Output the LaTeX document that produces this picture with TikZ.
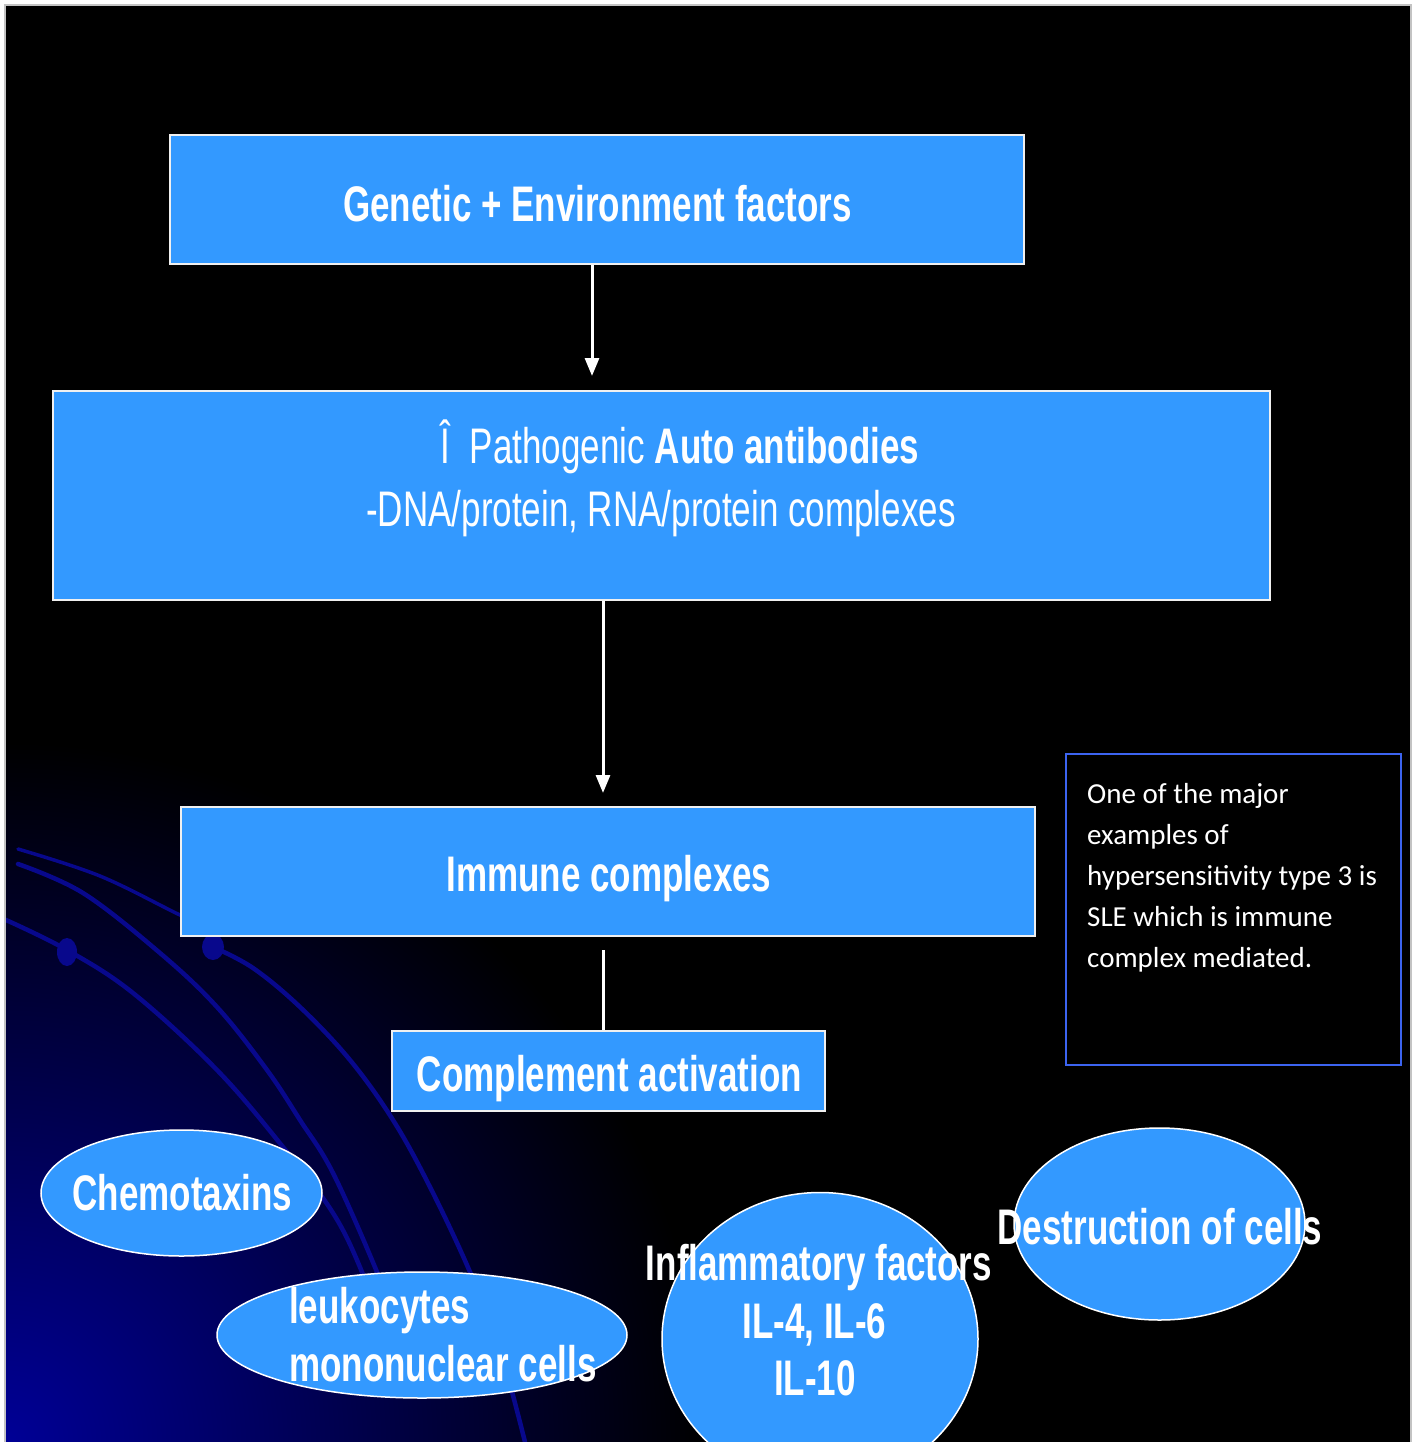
\documentclass[tikz,border=0pt]{standalone}
\usepackage{fontspec}
\setmainfont{Liberation Sans}
\newfontfamily\narrowfont[FakeStretch=0.70]{Liberation Sans}
\newfontfamily\notefont{Carlito}
\usetikzlibrary{shapes.geometric,arrows.meta}
\definecolor{boxblue}{RGB}{51,153,255}
\definecolor{arcblue}{RGB}{8,8,140}
\definecolor{deepblue}{RGB}{0,0,150}
\definecolor{noteblue}{RGB}{60,100,240}
\definecolor{framegray}{RGB}{195,195,195}
\begin{document}
\begin{tikzpicture}[x=1pt,y=-1pt,
  blk/.style={rectangle, draw=white!88!gray, line width=2pt, fill=boxblue, inner sep=0pt},
  bubble/.style={ellipse, draw=white, line width=1.5pt, fill=boxblue, inner sep=0pt},
  bt/.style={text=white, font=\narrowfont\bfseries\fontsize{50}{58}\selectfont, inner sep=0pt, anchor=base},
  rt/.style={text=white, font=\narrowfont\fontsize{50}{58}\selectfont, inner sep=0pt, anchor=base},
  nt/.style={text=white, font=\notefont\fontsize{29}{41}\selectfont, inner sep=0pt, anchor=base west},
  bluearc/.style={draw=arcblue, line width=4.5pt, line cap=round},
  flow/.style={draw=white, line width=3pt, -{Triangle[width=14pt,length=18pt]}},
]
\useasboundingbox (0,0) rectangle (1415,1442);
\clip (0,0) rectangle (1415,1442);
\fill[white] (0,0) rectangle (1415,1442);
% background
\fill[black] (5,5) rectangle (1411,1460);
\draw[framegray, line width=1.5pt] (5,1460) -- (5,5) -- (1411,5) -- (1411,1460);
\begin{scope}
  \clip (6,6) rectangle (1410,1442);
  \shade[inner color=deepblue, outer color=black] (5,1442) circle (700pt);
  % decorative arcs
  \draw[bluearc, line width=3.5pt] plot[smooth, tension=0.6] coordinates {(18,849) (100,876) (180,915) (215,930)};
  \draw[bluearc] plot[smooth, tension=0.6] coordinates {(18,864) (83,893) (160,953) (217,1007) (267,1070) (300,1120) (333,1173) (377,1272) (398,1330)};
  \draw[bluearc] plot[smooth, tension=0.6] coordinates {(6,920) (67,950) (133,993) (217,1070) (283,1147) (333,1213) (362,1272) (382,1330)};
  \draw[bluearc] plot[smooth, tension=0.6] coordinates {(213,947) (253,968) (300,1007) (350,1060) (393,1120) (430,1187) (470,1272) (500,1350) (525,1442)};
  \fill[arcblue] (67,952) ellipse (10pt and 14pt);
  \fill[arcblue] (213,947) ellipse (11pt and 13pt);
\end{scope}
% boxes
\node[blk, minimum width=854pt, minimum height=129pt] (b1) at (597,199.5) {};
\node[blk, minimum width=1217pt, minimum height=209pt] (b2) at (661.5,495.5) {};
\node[blk, minimum width=854pt, minimum height=129pt] (b3) at (608,871.5) {};
\node[blk, minimum width=433pt, minimum height=80pt] (b4) at (608.5,1071) {};
% box texts
\node[bt] (g1) at (597.5,221) {Genetic + Environment factors};
\node[rt] (p1) at (680,463) {Î\ \ Pathogenic \textbf{Auto antibodies}};
\node[rt] (p2) at (661,526) {-DNA/protein, RNA/protein complexes};
\node[bt] (i1) at (609,891) {Immune complexes};
\node[bt] (c1) at (609.5,1091) {Complement activation};
% connectors
\coordinate (t1) at (592,376);
\coordinate (t2) at (603,793);
\coordinate (s3) at (603,950);
\draw[flow] (b1.south -| t1) -- (t1);
\draw[flow] (b2.south -| t2) -- (t2);
\draw[white, line width=3pt] (s3) -- (s3 |- b4.north);
% ellipses
\node[bubble, minimum width=281pt, minimum height=126pt] (e1) at (181.5,1193) {};
\node[bubble, minimum width=410pt, minimum height=126pt] (e2) at (422,1335) {};
\node[bubble, minimum width=316pt, minimum height=293pt] (e3) at (820,1339) {};
\node[bubble, minimum width=291pt, minimum height=192pt] (e4) at (1159.5,1224) {};
\node[bt] (ch) at (182.5,1210) {Chemotaxins};
\node[bt, anchor=base west] (lk1) at (289,1323) {leukocytes};
\node[bt, anchor=base west] (lk2) at (289,1381) {mononuclear cells};
\node[bt] (if1) at (819,1280) {Inflammatory factors};
\node[bt] (if2) at (814.5,1338) {IL-4, IL-6};
\node[bt] (if3) at (815,1395) {IL-10};
\node[bt] (ds) at (1160,1244) {Destruction of cells};
% note box
\node[rectangle, draw=noteblue, line width=2pt, fill=black, inner sep=0pt, minimum width=335pt, minimum height=311pt] (note) at (1233.5,909.5) {};
\node[nt] (n1) at (1087,803) {One of the major};
\node[nt] (n2) at (1087,844) {examples of};
\node[nt] (n3) at (1087,885) {hypersensitivity type 3 is};
\node[nt] (n4) at (1087,926) {SLE which is immune};
\node[nt] (n5) at (1087,967) {complex mediated.};
\end{tikzpicture}
\end{document}
